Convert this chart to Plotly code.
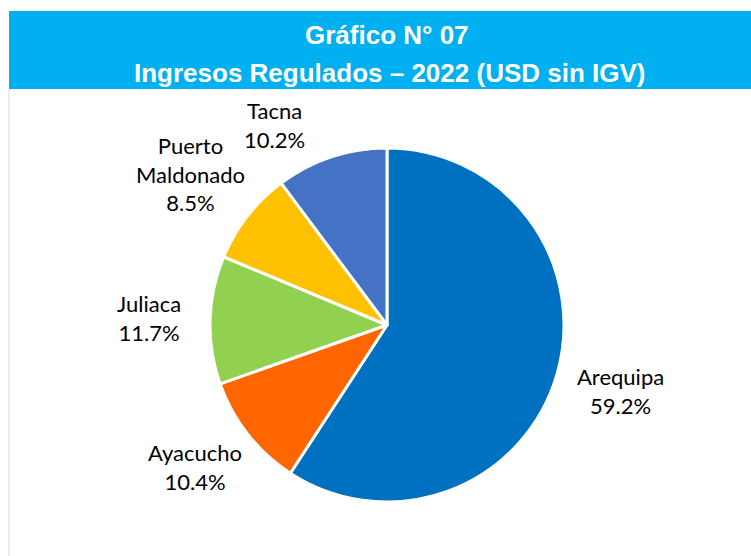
import math
import plotly.graph_objects as go

categories = ["Arequipa", "Ayacucho", "Juliaca", "Puerto Maldonado", "Tacna"]
label_text = ["Arequipa", "Ayacucho", "Juliaca", "Puerto<br>Maldonado", "Tacna"]
shares = [59.2, 10.4, 11.7, 8.5, 10.2]
colors = ["#0070C0", "#FF6600", "#92D050", "#FFC000", "#4472C4"]
title_1 = "Gráfico N° 07"
title_2 = "Ingresos Regulados – 2022 (USD sin IGV)"

W, H = 751, 556
cx, cy, r = 387, 325, 177
header_top, header_bottom = 11, 89
label_gap = 200          # distance from centre to nearest edge of label box
char_w, line_h = 11, 30  # approximate label box metrics

fig = go.Figure(go.Pie(
    labels=categories,
    values=shares,
    sort=False,
    direction="clockwise",
    rotation=0,
    marker=dict(colors=colors, line=dict(color="white", width=3)),
    textinfo="none",
    hoverinfo="label+percent",
    showlegend=False,
    domain=dict(x=[(cx - r) / W, (cx + r) / W], y=[(H - cy - r) / H, (H - cy + r) / H]),
))

# data labels placed outside each slice's mid angle, kept inside the plot area
total = sum(shares)
cum = 0.0
for txt, v in zip(label_text, shares):
    theta = 2 * math.pi * (cum + v / 2) / total
    cum += v
    lines = txt.split("<br>") + [f"{v:.1f}%"]
    w = char_w * max(len(s) for s in lines)
    h = line_h * len(lines)
    ax, ay = label_gap + w / 2, label_gap + h / 2
    lx = cx + ax * math.sin(theta)
    ly = cy - ay * math.cos(theta)
    top_limit = header_bottom + 6 + h / 2
    if ly < top_limit:
        phi = math.acos((cy - top_limit) / ay)
        lx = cx + math.copysign(ax * math.sin(phi), math.sin(theta))
        ly = top_limit
    fig.add_annotation(text="<br>".join(lines), xref="paper", yref="paper",
                       x=lx / W, y=1 - ly / H, showarrow=False,
                       xanchor="center", yanchor="middle", align="center",
                       font=dict(family="Lato", size=22, color="#000000"))

fig.add_shape(type="rect", xref="paper", yref="paper",
              x0=9 / W, x1=1, y0=1 - header_bottom / H, y1=1 - header_top / H,
              fillcolor="#00B0F0", line=dict(width=0), layer="below")
fig.add_shape(type="line", xref="paper", yref="paper",
              x0=9 / W, x1=9 / W, y0=0, y1=1 - header_bottom / H,
              line=dict(color="#DCE6F2", width=1.5))

fig.add_annotation(text=title_1, xref="paper", yref="paper", x=387 / W, y=1 - 35 / H,
                   showarrow=False, xanchor="center", yanchor="middle",
                   font=dict(family="Liberation Sans", size=26, color="white", weight="bold"))
fig.add_annotation(text=title_2, xref="paper", yref="paper", x=389 / W, y=1 - 73 / H,
                   showarrow=False, xanchor="center", yanchor="middle",
                   font=dict(family="Liberation Sans", size=26, color="white", weight="bold"))

fig.update_layout(width=W, height=H, margin=dict(l=0, r=0, t=0, b=0),
                  paper_bgcolor="white", plot_bgcolor="white")
fig.write_html("out.html", config={"displayModeBar": False},
               post_script="document.body.style.margin='0';")
